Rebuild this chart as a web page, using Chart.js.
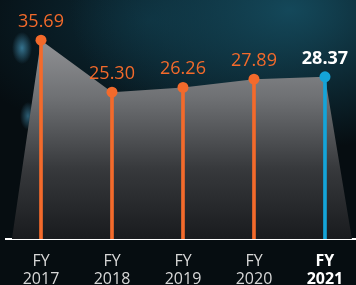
<!DOCTYPE html>
<html>
<head>
<meta charset="utf-8">
<script src="https://cdn.jsdelivr.net/npm/chart.js@4.4.1/dist/chart.umd.min.js"></script>
<style>
  html, body { margin: 0; padding: 0; }
  body {
    width: 356px; height: 285px; overflow: hidden;
    background:
      radial-gradient(ellipse 10px 16px at 22px 48px, rgba(90,190,235,0.55), rgba(90,190,235,0) 100%),
      radial-gradient(ellipse 8px 14px at 28px 116px, rgba(90,190,235,0.45), rgba(90,190,235,0) 100%),
      radial-gradient(ellipse 9px 10px at 64px 182px, rgba(90,190,235,0.25), rgba(90,190,235,0) 100%),
      radial-gradient(ellipse 220px 140px at 290px 10px, #14485a 0%, rgba(20,72,90,0) 100%),
      radial-gradient(ellipse 200px 120px at 150px 20px, #0c2a36 0%, rgba(12,42,54,0) 100%),
      #060d11;
  }
  #wrap { position: relative; width: 356px; height: 285px; }
</style>
</head>
<body>
<div id="wrap"><canvas id="c" width="356" height="285"></canvas></div>
<script>
const categories = ["2017", "2018", "2019", "2020", "2021"];
const tickPrefix = "FY";
const values = [35.69, 25.30, 26.26, 27.89, 28.37];
const valueLabels = ["35.69", "25.30", "26.26", "27.89", "28.37"];
const highlightIndex = 4;

const Y_MIN = -4.0, Y_MAX = 43.7;
const X_MIN = -0.493, X_MAX = 4.437;
const AREA_LEFT = -0.41, AREA_RIGHT = 4.38;

const ORANGE = '#f36a2b';
const BLUE = '#14a4d8';

const areaData = [{x: AREA_LEFT, y: Y_MIN}]
  .concat(values.map((v, i) => ({x: i, y: v})))
  .concat([{x: AREA_RIGHT, y: Y_MIN}]);
const stemData = values.map((v, i) => ({x: i, y: [Y_MIN, v]}));
const pointData = values.map((v, i) => ({x: i, y: v}));
const markColors = values.map((v, i) => i === highlightIndex ? BLUE : ORANGE);

const labelPlugin = {
  id: 'valueLabels',
  afterDatasetsDraw(chart) {
    const meta = chart.getDatasetMeta(2);
    const ctx = chart.ctx;
    ctx.save();
    ctx.textAlign = 'center';
    ctx.textBaseline = 'alphabetic';
    meta.data.forEach((pt, i) => {
      const hi = i === highlightIndex;
      ctx.font = (hi ? 'bold ' : '') + '18px "Open Sans"';
      ctx.fillStyle = hi ? '#ffffff' : ORANGE;
      ctx.fillText(valueLabels[i], pt.x, pt.y - 13);
    });
    const xs = chart.scales.x;
    const base = chart.chartArea.bottom;
    categories.forEach((c, i) => {
      const hi = i === highlightIndex;
      const x = xs.getPixelForValue(i);
      ctx.font = (hi ? 'bold ' : '') + '16px "Open Sans"';
      ctx.fillStyle = hi ? '#ffffff' : '#d8d8d8';
      ctx.fillText(tickPrefix, x, base + 26.5);
      ctx.fillText(c, x, base + 45);
    });
    ctx.restore();
  }
};

const ctx = document.getElementById('c').getContext('2d');
new Chart(ctx, {
  type: 'bar',
  data: {
    datasets: [
      {
        type: 'line',
        data: areaData,
        order: 3,
        borderWidth: 0,
        pointRadius: 0,
        tension: 0,
        fill: 'start',
        backgroundColor: (c) => {
          const area = c.chart.chartArea;
          if (!area) return '#555';
          const g = c.chart.ctx.createLinearGradient(0, area.top + 38, 0, area.bottom);
          g.addColorStop(0, '#929396');
          g.addColorStop(0.3, '#6e7073');
          g.addColorStop(0.65, '#37393c');
          g.addColorStop(1, '#191b1e');
          return g;
        }
      },
      {
        type: 'bar',
        data: stemData,
        order: 2,
        barThickness: 3,
        grouped: false,
        backgroundColor: markColors,
        borderWidth: 0
      },
      {
        type: 'line',
        data: pointData,
        order: 1,
        showLine: false,
        pointRadius: 5.5,
        pointBorderWidth: 0,
        pointBackgroundColor: markColors
      }
    ]
  },
  options: {
    responsive: false,
    animation: false,
    layout: { autoPadding: false, padding: { left: 6, right: 0, top: 0, bottom: 0 } },
    plugins: { legend: { display: false }, tooltip: { enabled: false } },
    scales: {
      x: {
        type: 'linear',
        min: X_MIN, max: X_MAX,
        offset: false,
        grid: { display: false, drawTicks: false },
        border: { display: true, color: '#ffffff', width: 2 },
        ticks: { display: false },
        afterFit: (s) => { s.height = 46; s.paddingLeft = 0; s.paddingRight = 0; }
      },
      y: {
        display: false,
        min: Y_MIN, max: Y_MAX
      }
    }
  },
  plugins: [labelPlugin]
});
</script>
</body>
</html>
